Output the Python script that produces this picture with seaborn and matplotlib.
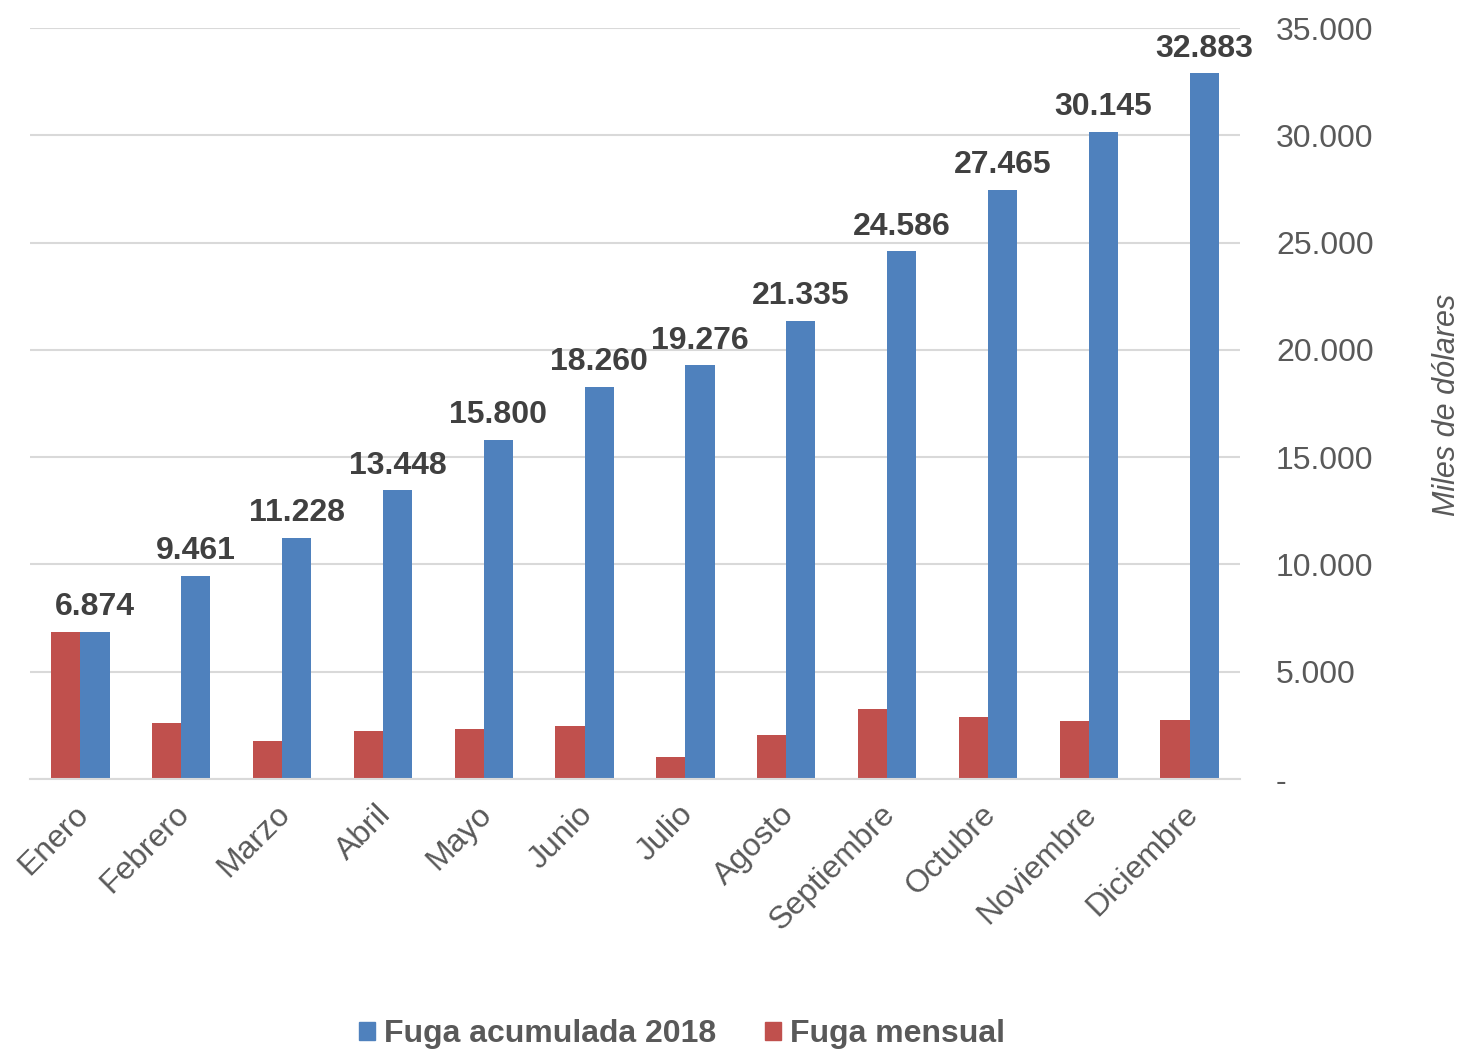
import matplotlib
matplotlib.use("Agg")
import matplotlib.pyplot as plt
import matplotlib.ticker as mticker
import matplotlib.transforms as mtransforms
from matplotlib.patches import Patch
import seaborn as sns
import pandas as pd

meses = ["Enero", "Febrero", "Marzo", "Abril", "Mayo", "Junio", "Julio",
         "Agosto", "Septiembre", "Octubre", "Noviembre", "Diciembre"]
fuga_acumulada = [6874, 9461, 11228, 13448, 15800, 18260, 19276,
                  21335, 24586, 27465, 30145, 32883]
fuga_mensual = [6874, 2587, 1767, 2220, 2352, 2460, 1016,
                2059, 3251, 2879, 2680, 2738]
serie_acum = "Fuga acumulada 2018"
serie_mens = "Fuga mensual"

df = pd.DataFrame({
    "Mes": meses * 2,
    "Valor": fuga_mensual + fuga_acumulada,
    "Serie": [serie_mens] * len(meses) + [serie_acum] * len(meses),
})

sns.set_theme(style="white")
plt.rcParams["font.family"] = ["Liberation Sans", "DejaVu Sans"]

BLUE = "#4f81bd"
RED = "#c0504d"
GRAY = "#595959"
DARK = "#404040"

fig = plt.figure(figsize=(14.64, 10.51), dpi=100)
ax = fig.add_axes([30 / 1464, 1 - 779 / 1051, 1210 / 1464, 751 / 1051])

sns.barplot(data=df, x="Mes", y="Valor", hue="Serie",
            hue_order=[serie_mens, serie_acum],
            palette={serie_mens: RED, serie_acum: BLUE},
            width=0.58, dodge=True, ax=ax, legend=False,
            linewidth=0, saturation=1)

ax.set_xlim(-0.5, len(meses) - 0.5)
ax.set_ylim(0, 35000)
ax.yaxis.set_major_locator(mticker.MultipleLocator(5000))


def fmt(v, pos=None):
    if v == 0:
        return "-"
    return f"{int(v):,}".replace(",", ".")


ax.yaxis.set_major_formatter(mticker.FuncFormatter(fmt))
ax.yaxis.tick_right()
ax.tick_params(axis="y", length=0, pad=26, labelsize=23, labelcolor=GRAY)
ax.tick_params(axis="x", length=0, pad=8, labelsize=23, labelcolor=GRAY)
for lbl in ax.get_yticklabels():
    lbl.set_horizontalalignment("left")

ax.set_xticks(range(len(meses)))
ax.set_xticklabels(meses, rotation=45, ha="right", va="top",
                   rotation_mode="anchor")
shift = mtransforms.ScaledTranslation(-7 / 100, -9 / 100, fig.dpi_scale_trans)
for lbl in ax.get_xticklabels():
    lbl.set_transform(lbl.get_transform() + shift)

ax.grid(axis="y", color="#d9d9d9", linewidth=1.5)
ax.set_axisbelow(True)
for s in ["top", "left", "right"]:
    ax.spines[s].set_visible(False)
ax.spines["bottom"].set_color("#d9d9d9")
ax.spines["bottom"].set_linewidth(1.5)

ax.set_xlabel("")
ax.set_ylabel("")
fig.text(1447 / 1464, 1 - 405 / 1051, "Miles de dólares", rotation=90,
         ha="center", va="center", fontsize=22, color=GRAY, style="italic")

# data labels above cumulative bars
blue_container = ax.containers[1]
for bar, v in zip(blue_container, fuga_acumulada):
    ax.annotate(fmt(v), (bar.get_x() + bar.get_width() / 2, bar.get_height()),
                xytext=(0, 7), textcoords="offset points", ha="center",
                va="bottom", fontsize=23, fontweight="bold", color=DARK)

handles = [Patch(color=BLUE, label=serie_acum), Patch(color=RED, label=serie_mens)]
fig.legend(handles=handles, loc="center", bbox_to_anchor=(682 / 1464, 1 - 1034 / 1051),
           ncol=2, frameon=False, handlelength=0.5, handleheight=0.5,
           handletextpad=0.3, columnspacing=1.5,
           prop={"size": 23, "weight": "bold"}, labelcolor=GRAY)

fig.savefig("out.png", dpi=100)
